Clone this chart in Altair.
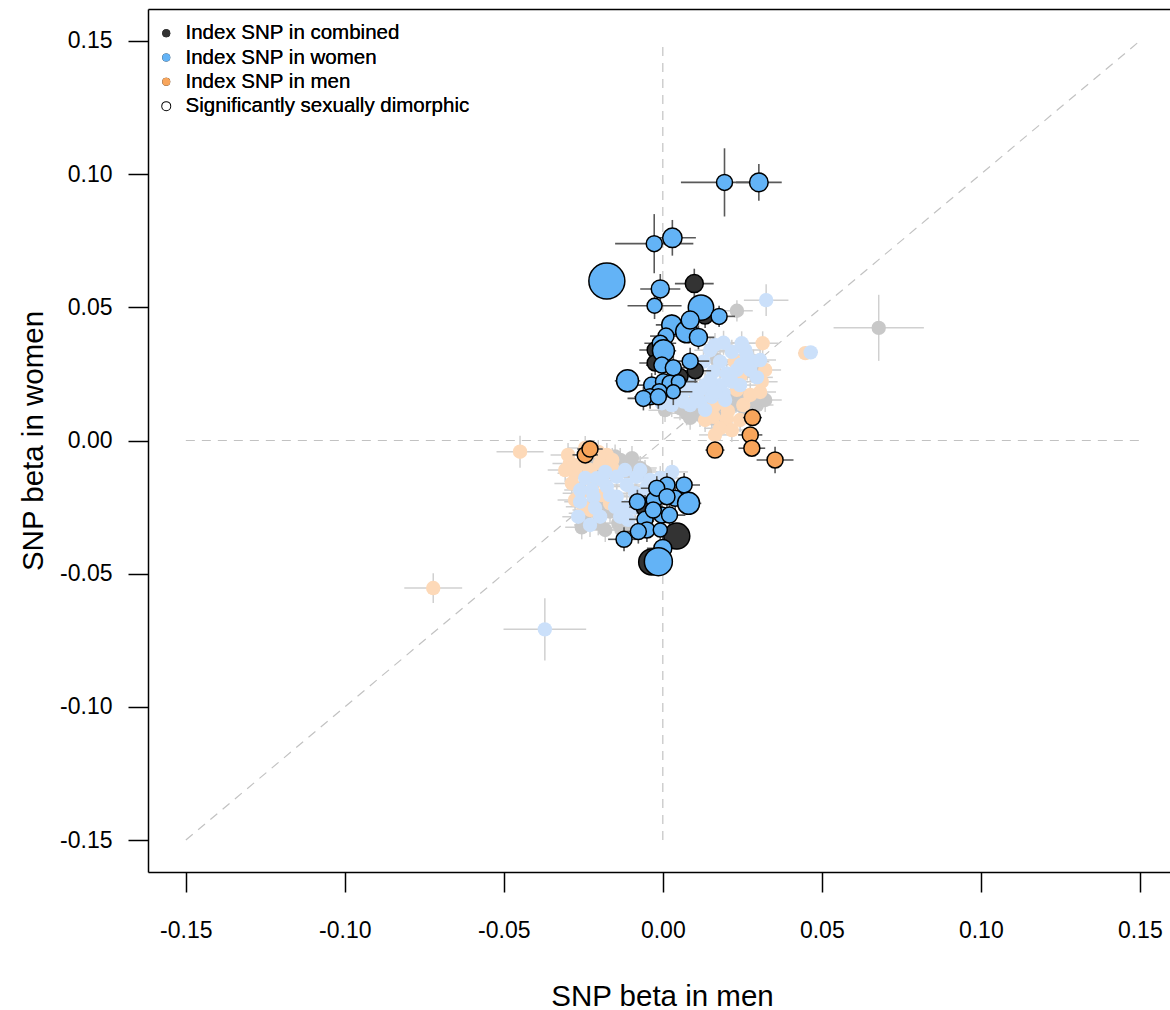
import altair as alt
import pandas as pd

FONT = "Liberation Sans"

TICKS = [-0.15, -0.10, -0.05, 0.00, 0.05, 0.10, 0.15]

# reference lines (diagonal, vertical at 0, horizontal at 0)
REF_X = [-0.15, 0.0, -0.15]
REF_X2 = [0.15, 0.0, 0.15]
REF_Y = [-0.15, -0.15, 0.0]
REF_Y2 = [0.15, 0.15, 0.0]

# ---- significantly dimorphic, index SNP in women (blue) ----
W_DIM_X = [0.0194, 0.0302, -0.0027, 0.0030, -0.0176, -0.0008, -0.0026, 0.0120, 0.0177, 0.0028,
           0.0075, 0.0112, 0.0010, -0.0008, 0.0002, 0.0086, -0.0003, 0.0033, -0.0111, -0.0035,
           0.0002, 0.0023, 0.0049, -0.0011, 0.0033, -0.0040, -0.0061, -0.0014, 0.0086,
           -0.0080, -0.0027, 0.0013, 0.0067, 0.0039, 0.0081, -0.0003, -0.0056, 0.0021, -0.0050,
           -0.0008, -0.0122, -0.0077, 0.0000, -0.0014, -0.0019, -0.0030, 0.0013]
W_DIM_Y = [0.0969, 0.0969, 0.0739, 0.0761, 0.0599, 0.0569, 0.0506, 0.0499, 0.0466, 0.0434,
           0.0408, 0.0387, 0.0392, 0.0365, 0.0337, 0.0298, 0.0283, 0.0273, 0.0224, 0.0208,
           0.0221, 0.0215, 0.0221, 0.0183, 0.0183, 0.0164, 0.0158, 0.0164, 0.0452,
           -0.0230, -0.0223, -0.0167, -0.0167, -0.0217, -0.0236, -0.0280, -0.0296, -0.0280, -0.0336,
           -0.0336, -0.0371, -0.0342, -0.0405, -0.0455, -0.0179, -0.0261, -0.0211]
W_DIM_SEX = [0.0137, 0.0072, 0.0123, 0.0074, 0.0030, 0.0063, 0.0085, 0.0040, 0.0050, 0.0050,
             0.0045, 0.0050, 0.0050, 0.0050, 0.0040, 0.0060, 0.0050, 0.0050, 0.0040, 0.0050,
             0.0050, 0.0050, 0.0060, 0.0050, 0.0060, 0.0050, 0.0050, 0.0050, 0.0050,
             0.0050, 0.0050, 0.0050, 0.0050, 0.0050, 0.0040, 0.0050, 0.0050, 0.0050, 0.0050,
             0.0060, 0.0050, 0.0050, 0.0050, 0.0030, 0.0050, 0.0050, 0.0050]
W_DIM_SEY = [0.0128, 0.0069, 0.0111, 0.0067, 0.0030, 0.0056, 0.0050, 0.0040, 0.0040, 0.0040,
             0.0040, 0.0045, 0.0045, 0.0045, 0.0040, 0.0050, 0.0045, 0.0045, 0.0040, 0.0045,
             0.0045, 0.0045, 0.0050, 0.0045, 0.0050, 0.0045, 0.0045, 0.0045, 0.0045,
             0.0045, 0.0045, 0.0045, 0.0045, 0.0045, 0.0040, 0.0045, 0.0045, 0.0045, 0.0045,
             0.0050, 0.0045, 0.0045, 0.0045, 0.0030, 0.0045, 0.0045, 0.0045]
W_DIM_W = [8, 9.3, 8, 9.7, 18, 9, 7.5, 12.7, 8, 10,
           11, 9, 8, 8, 11, 8, 8, 8, 11, 8,
           8, 8, 7, 8, 7, 8, 8, 8, 9,
           8, 8, 8, 8, 8, 11, 8, 8, 8, 8,
           7, 8, 8, 9, 14, 8, 8, 8]

# ---- significantly dimorphic, index SNP in combined (dark) ----
C_DIM_X = [0.0099, -0.0024, -0.0024, 0.0102, 0.0133, 0.0054, 0.0044, -0.0035, -0.0056]
C_DIM_Y = [0.0589, 0.0340, 0.0291, 0.0262, 0.0467, 0.0240, -0.0359, -0.0456, -0.0250]
C_DIM_SEX = [0.0061, 0.0050, 0.0050, 0.0050, 0.0050, 0.0050, 0.0030, 0.0030, 0.0050]
C_DIM_SEY = [0.0056, 0.0045, 0.0045, 0.0045, 0.0045, 0.0045, 0.0030, 0.0030, 0.0045]
C_DIM_W = [9, 8, 8, 8, 8, 8, 13, 13, 9]

# ---- significantly dimorphic, index SNP in men (orange) ----
M_DIM_X = [0.0282, 0.0275, 0.0280, 0.0164, 0.0353, -0.0244, -0.0229]
M_DIM_Y = [0.0086, 0.0021, -0.0029, -0.0036, -0.0073, -0.0054, -0.0032]
M_DIM_SEX = [0.0030, 0.0038, 0.0042, 0.0030, 0.0058, 0.0040, 0.0040]
M_DIM_SEY = [0.0030, 0.0030, 0.0030, 0.0030, 0.0050, 0.0030, 0.0030]
M_DIM_W = [8, 8, 8, 8, 8, 8, 8]

# ---- not dimorphic, index SNP in women (light blue) ----
W_X = [0.0325, 0.0465, 0.0191, 0.0248, 0.0217, 0.0264, 0.0285, 0.0296, 0.0128, 0.0180,
       0.0102, 0.0159, 0.0201, 0.0233, 0.0086, 0.0133, 0.0180, 0.0217, 0.0054, 0.0107,
       0.0154, 0.0191, 0.0013, 0.0065, 0.0117, 0.0028, -0.0003, 0.0149, 0.0060, 0.0245,
       0.0149, 0.0196, 0.0243, 0.0275, 0.0306, 0.0086, 0.0133, 0.0164, 0.0117, 0.0070,
       0.0164, 0.0259,
       -0.0208, -0.0145, -0.0082, -0.0040, -0.0260, -0.0223, -0.0176, -0.0113, -0.0050, -0.0145,
       -0.0087, -0.0260, -0.0150, -0.0113, -0.0266, -0.0197, -0.0134, -0.0218, -0.0008, 0.0017,
       -0.0190, -0.0060, -0.0244, -0.0181, -0.0119, -0.0071, -0.0166, -0.0213, -0.0087, -0.0109,
       -0.0229, 0.0029, -0.0371]
W_Y = [0.0527, 0.0331, 0.0367, 0.0365, 0.0333, 0.0321, 0.0296, 0.0237, 0.0296, 0.0296,
       0.0258, 0.0258, 0.0252, 0.0265, 0.0215, 0.0208, 0.0208, 0.0221, 0.0177, 0.0171,
       0.0164, 0.0177, 0.0146, 0.0146, 0.0146, 0.0133, 0.0140, 0.0339, 0.0235, 0.0285,
       0.0227, 0.0152, 0.0208, 0.0265, 0.0302, 0.0133, 0.0115, 0.0359, 0.0190, 0.0190,
       0.0182, 0.0340,
       -0.0142, -0.0136, -0.0136, -0.0148, -0.0186, -0.0186, -0.0173, -0.0167, -0.0173, -0.0211,
       -0.0198, -0.0230, -0.0249, -0.0249, -0.0286, -0.0286, -0.0286, -0.0211, -0.0141, -0.0141,
       -0.0150, -0.0200, -0.0141, -0.0118, -0.0111, -0.0111, -0.0205, -0.0253, -0.0253, -0.0298,
       -0.0317, -0.0118, -0.0709]
W_SEX = [0.0070, 0.0023] + [0.0050] * (len(W_X) - 3) + [0.0130]
W_SEY = [0.0060, 0.0020] + [0.0045] * (len(W_X) - 3) + [0.0117]

# ---- not dimorphic, index SNP in men (light orange) ----
M_X = [0.0314, 0.0227, 0.0243, 0.0311, 0.0233, 0.0191, 0.0253, 0.0159, 0.0201, 0.0180,
       0.0217, 0.0159, 0.0448, 0.0275, 0.0265, 0.0205, 0.0133, 0.0164, 0.0243, 0.0306,
       0.0322,
       -0.0292, -0.0276, -0.0286, -0.0260, -0.0229, -0.0197, -0.0176, -0.0218, -0.0192, -0.0166,
       -0.0250, -0.0265, -0.0159, -0.0307, -0.0298, -0.0244, -0.0203, -0.0159, -0.0276, -0.0229,
       -0.0449, -0.0722]
M_Y = [0.0365, 0.0296, 0.0240, 0.0221, 0.0190, 0.0140, 0.0133, 0.0089, 0.0083, 0.0046,
       0.0039, 0.0127, 0.0328, 0.0171, 0.0270, 0.0110, 0.0077, 0.0021, 0.0077, 0.0182,
       0.0265,
       -0.0086, -0.0123, -0.0161, -0.0198, -0.0111, -0.0086, -0.0054, -0.0161, -0.0205, -0.0236,
       -0.0249, -0.0092, -0.0073, -0.0111, -0.0054, -0.0028, -0.0043, -0.0103, -0.0223, -0.0261,
       -0.0042, -0.0554]
M_SEX = [0.0050] * 12 + [0.0023] + [0.0050] * 8 + [0.0055] * (len(M_X) - 23) + [0.0074, 0.0091]
M_SEY = [0.0045] * 12 + [0.0020] + [0.0045] * 8 + [0.0045] * (len(M_X) - 23) + [0.0060, 0.0056]

# ---- not dimorphic, index SNP in combined (grey) ----
C_X = [0.0233, 0.0679, 0.0170, 0.0285, 0.0233, 0.0296, 0.0217, 0.0075, 0.0117, 0.0154,
       0.0102, 0.0054, 0.0253, 0.0039, 0.0007, 0.0086, 0.0180, 0.0259, 0.0322,
       -0.0134, -0.0113, -0.0097, -0.0234, -0.0244, -0.0255, -0.0203, -0.0140, -0.0166, -0.0197,
       -0.0071, -0.0150, -0.0130, -0.0097, -0.0056, -0.0181, -0.0119, -0.0213]
C_Y = [0.0487, 0.0423, 0.0302, 0.0283, 0.0167, 0.0133, 0.0133, 0.0102, 0.0096, 0.0083,
       0.0121, 0.0121, 0.0164, 0.0160, 0.0114, 0.0085, 0.0107, 0.0114, 0.0152,
       -0.0073, -0.0098, -0.0117, -0.0104, -0.0273, -0.0326, -0.0311, -0.0311, -0.0267, -0.0236,
       -0.0103, -0.0060, -0.0335, -0.0066, -0.0118, -0.0336, -0.0328, -0.0092]
C_SEX = [0.0050, 0.0142] + [0.0052] * (len(C_X) - 2)
C_SEY = [0.0040, 0.0124] + [0.0045] * (len(C_X) - 2)

LEGEND_LABELS = ["Index SNP in combined", "Index SNP in women", "Index SNP in men",
                 "Significantly sexually dimorphic"]

GROUPS = ["grey", "lightorange", "lightblue", "dark", "orange", "blue"]
GROUP_COLORS = ["#c8c8c8", "#fdd9b8", "#cbe0fa", "#333333", "#f8a55b", "#63b3f6"]


def rows(group, tier, xs, ys, sx, sy, w):
    return pd.DataFrame({"group": group, "tier": tier, "x": xs, "y": ys,
                         "sx": sx, "sy": sy, "w": w})


df = pd.concat([
    rows("grey", "faint", C_X, C_Y, C_SEX, C_SEY, [7.2] * len(C_X)),
    rows("lightorange", "faint", M_X, M_Y, M_SEX, M_SEY, [7.2] * len(M_X)),
    rows("lightblue", "faint", W_X, W_Y, W_SEX, W_SEY, [7.2] * len(W_X)),
    rows("dark", "dim", C_DIM_X, C_DIM_Y, C_DIM_SEX, C_DIM_SEY, C_DIM_W),
    rows("orange", "dim", M_DIM_X, M_DIM_Y, M_DIM_SEX, M_DIM_SEY, M_DIM_W),
    rows("blue", "dim", W_DIM_X, W_DIM_Y, W_DIM_SEX, W_DIM_SEY, W_DIM_W),
], ignore_index=True)
df["order"] = range(len(df))

ref_df = pd.DataFrame({"x": REF_X, "x2": REF_X2, "y": REF_Y, "y2": REF_Y2})
leg_df = pd.DataFrame({"label": LEGEND_LABELS, "lx": [0.0] * 4, "ly": [0.0] * 4})

xscale = alt.Scale(domain=[-0.1619, 0.1595], nice=False, zero=False)
yscale = alt.Scale(domain=[-0.1620, 0.1620], nice=False, zero=False)

label_expr = "(datum.value < -0.000001 ? '-' : '') + format(abs(datum.value), '.2f')"

x_axis = alt.Axis(
    orient="bottom", values=TICKS, labelExpr=label_expr, grid=False,
    domain=True, domainColor="black", domainWidth=1.5,
    ticks=True, tickSize=20, tickWidth=1.5, tickColor="black",
    labelFont=FONT, labelFontSize=23, labelColor="black", labelPadding=27,
    labelFlush=False, labelOverlap=False,
    title="SNP beta in men", titleFont=FONT, titleFontSize=29.5, titleFontWeight="normal",
    titleColor="black", titleX=514, titleY=133, titleBaseline="alphabetic", titleAlign="center",
)
top_axis = alt.Axis(
    orient="top", grid=False, domain=True, domainColor="black", domainWidth=1.5,
    ticks=False, labels=False, title=None,
)
y_axis = alt.Axis(
    orient="left", values=TICKS, labelExpr=label_expr, grid=False,
    domain=True, domainColor="black", domainWidth=1.5,
    ticks=True, tickSize=20, tickWidth=1.5, tickColor="black",
    labelFont=FONT, labelFontSize=23, labelColor="black", labelPadding=16,
    labelFlush=False, labelOverlap=False,
    title="SNP beta in women", titleFont=FONT, titleFontSize=29.5, titleFontWeight="normal",
    titleColor="black", titleX=-106, titleY=431.5, titleAngle=270,
    titleBaseline="alphabetic", titleAlign="center",
)


def X(field, axis=None):
    return alt.X(field, type="quantitative", scale=xscale, axis=axis)


def Y(field):
    return alt.Y(field, type="quantitative", scale=yscale, axis=y_axis)


fill_enc = alt.Fill("group:N", scale=alt.Scale(domain=GROUPS, range=GROUP_COLORS), legend=None)
# symbol size is the bounding-box area: (2 * radius)^2
size_enc = alt.Size("w:Q", scale=alt.Scale(type="pow", exponent=2, domain=[0, 20],
                                           range=[0, 1600]), legend=None)

ref = alt.Chart(ref_df).mark_rule(color="#c2c2c2", strokeDash=[9, 7], strokeWidth=1.2).encode(
    x=X("x", x_axis), x2="x2:Q", y=Y("y"), y2="y2:Q")

base = alt.Chart(df).transform_calculate(
    xlo="datum.x - datum.sx", xhi="datum.x + datum.sx",
    ylo="datum.y - datum.sy", yhi="datum.y + datum.sy")

faint = base.transform_filter("datum.tier == 'faint'")
dim = base.transform_filter("datum.tier == 'dim'")

faint_h = faint.mark_rule(color="#d0d0d0", strokeWidth=1.5).encode(
    x=X("xlo"), x2="xhi:Q", y=Y("y"))
faint_v = faint.mark_rule(color="#d0d0d0", strokeWidth=1.5).encode(
    x=X("x"), y=Y("ylo"), y2="yhi:Q")
faint_pts = faint.mark_circle(opacity=1).encode(
    x=X("x"), y=Y("y"), fill=fill_enc, size=size_enc, order=alt.Order("order:Q"))

dim_h = dim.mark_rule(color="#595959", strokeWidth=1.6).encode(
    x=X("xlo"), x2="xhi:Q", y=Y("y"))
dim_v = dim.mark_rule(color="#595959", strokeWidth=1.6).encode(
    x=X("x"), y=Y("ylo"), y2="yhi:Q")
dim_pts = dim.mark_circle(opacity=1, stroke="black", strokeWidth=1.5).encode(
    x=X("x"), y=Y("y"), fill=fill_enc, size=size_enc, order=alt.Order("order:Q"))

leg = alt.Legend(orient="none", legendX=8, legendY=14, title=None, padding=0,
                 labelFont=FONT, labelFontSize=20.5, labelColor="black", labelOffset=9,
                 symbolSize=64, symbolStrokeWidth=2, symbolType="circle", symbolOpacity=1,
                 rowPadding=3.3, labelLimit=500)
legend_layer = alt.Chart(leg_df).mark_circle(opacity=0, strokeWidth=2).encode(
    x=X("lx", top_axis), y=Y("ly"),
    fill=alt.Fill("label:N", scale=alt.Scale(domain=LEGEND_LABELS,
                  range=["#333333", "#63b3f6", "#f8a55b", "white"]), legend=leg),
    stroke=alt.Stroke("label:N", scale=alt.Scale(domain=LEGEND_LABELS,
                      range=["transparent", "transparent", "transparent", "black"]), legend=leg),
)

chart = alt.layer(ref, faint_h, faint_v, faint_pts, dim_h, dim_v, dim_pts, legend_layer).resolve_axis(
    x="independent"
).resolve_scale(fill="independent").properties(
    width=1022, height=863,
    autosize=alt.AutoSizeParams(type="none"),
    padding={"left": 148, "top": 9, "right": 0, "bottom": 138},
    background="white",
).configure_view(stroke=None)

chart.save("out.html", embed_options={"renderer": "svg", "actions": False})
